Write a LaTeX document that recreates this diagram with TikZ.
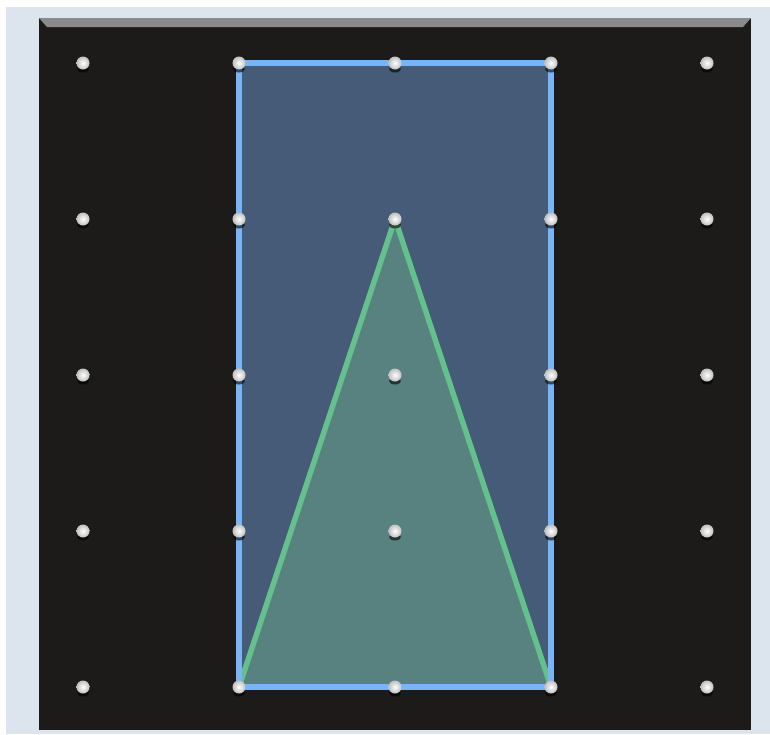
\documentclass[tikz,border=0pt]{standalone}
\usepackage{tikz}

\definecolor{pagebg}{HTML}{DCE4EE}
\definecolor{boardbg}{HTML}{1C1B1A}
\definecolor{bevel}{HTML}{8A8A8A}
\definecolor{bandblue}{HTML}{7AB4F5}
\definecolor{bandgreen}{HTML}{64C08C}
\definecolor{rectfill}{HTML}{465B78}
\definecolor{trifill}{HTML}{58827F}

\begin{document}
\begin{tikzpicture}[x = 1pt, y = -1pt,
                    peg/.style = {circle, inner sep = 0pt, minimum size = 13pt,
                                  inner color = white, outer color = gray!50},
                    shade/.style = {fill = black, opacity = 0.6},
                    blueband/.style = {draw = bandblue, line width = 6pt, line join = miter},
                    greenband/.style = {draw = bandgreen, line width = 5.5pt, line join = round}]
  \useasboundingbox (0, 0) rectangle (770, 734);
  \fill [white] (0, 0) rectangle (770, 734);
  \fill [pagebg] (6, 7) rectangle (770, 734);
  % board
  \fill [boardbg] (39, 18) rectangle (751, 730);
  \fill [bevel] (39, 18) -- (751, 18) -- (743, 27) -- (47, 27) -- cycle;
  % peg positions
  \coordinate (P11) at (83, 63);
  \coordinate (P21) at (239, 63);
  \coordinate (P31) at (395, 63);
  \coordinate (P41) at (551, 63);
  \coordinate (P51) at (707, 63);
  \coordinate (P12) at (83, 219);
  \coordinate (P22) at (239, 219);
  \coordinate (P32) at (395, 219);
  \coordinate (P42) at (551, 219);
  \coordinate (P52) at (707, 219);
  \coordinate (P13) at (83, 375);
  \coordinate (P23) at (239, 375);
  \coordinate (P33) at (395, 375);
  \coordinate (P43) at (551, 375);
  \coordinate (P53) at (707, 375);
  \coordinate (P14) at (83, 531);
  \coordinate (P24) at (239, 531);
  \coordinate (P34) at (395, 531);
  \coordinate (P44) at (551, 531);
  \coordinate (P54) at (707, 531);
  \coordinate (P15) at (83, 687);
  \coordinate (P25) at (239, 687);
  \coordinate (P35) at (395, 687);
  \coordinate (P45) at (551, 687);
  \coordinate (P55) at (707, 687);
  % bands
  \fill [rectfill] (P21) -- (P41) -- (P45) -- (P25) -- cycle;
  \fill [trifill] (P25) -- (P32) -- (P45) -- cycle;
  \draw [greenband] (P25) -- (P32) -- (P45);
  \draw [blueband] (P21) -- (P41) -- (P45) -- (P25) -- cycle;
  % pegs
  \foreach \p in {P11, P21, P31, P41, P51, P12, P22, P32, P42, P52,
                  P13, P23, P33, P43, P53, P14, P24, P34, P44, P54,
                  P15, P25, P35, P45, P55}
  {
    \fill [shade] ([yshift = -6pt]\p) ellipse (6 and 3.5);
    \node [peg] (\p peg) at (\p) {};
  }
\end{tikzpicture}
\end{document}
